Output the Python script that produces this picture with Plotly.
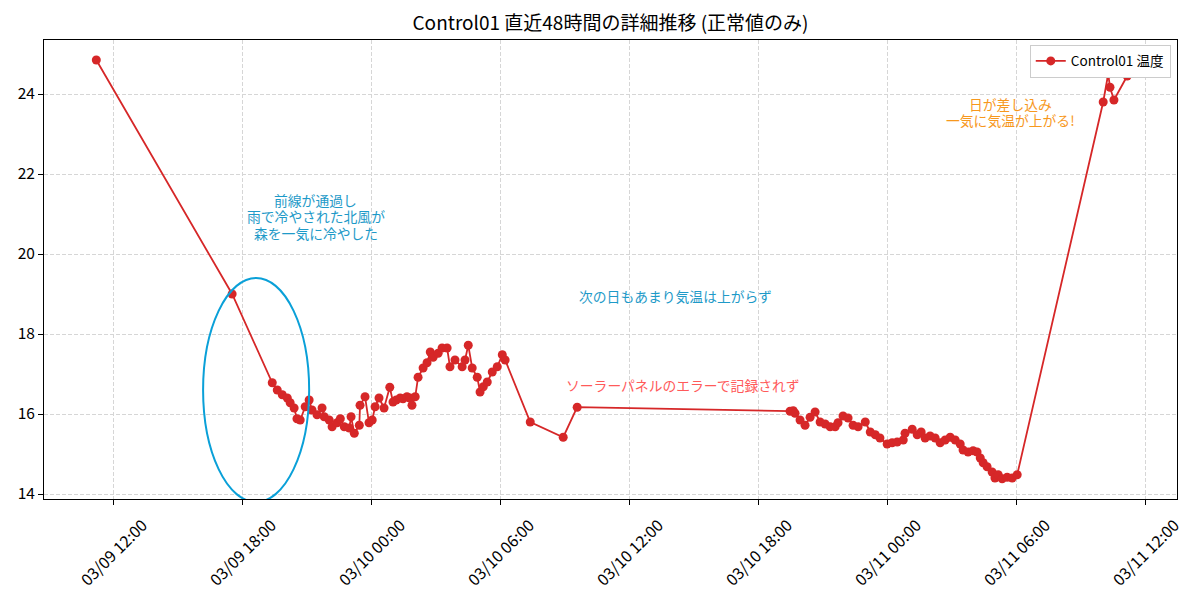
import plotly.graph_objects as go

# 03/09 - 03/11 readings (anomalies removed)
times = [
    "2025-03-09 11:13", "2025-03-09 17:32",
    "2025-03-09 19:24", "2025-03-09 19:38", "2025-03-09 19:52", "2025-03-09 20:06",
    "2025-03-09 20:14", "2025-03-09 20:25", "2025-03-09 20:33", "2025-03-09 20:42",
    "2025-03-09 20:56", "2025-03-09 21:07", "2025-03-09 21:15", "2025-03-09 21:29",
    "2025-03-09 21:43", "2025-03-09 21:49", "2025-03-09 22:03", "2025-03-09 22:11",
    "2025-03-09 22:25", "2025-03-09 22:34", "2025-03-09 22:45", "2025-03-09 22:59",
    "2025-03-09 23:04", "2025-03-09 23:13", "2025-03-09 23:27", "2025-03-09 23:29",
    "2025-03-09 23:43", "2025-03-09 23:54", "2025-03-10 00:03", "2025-03-10 00:11",
    "2025-03-10 00:22", "2025-03-10 00:36", "2025-03-10 00:52", "2025-03-10 01:01",
    "2025-03-10 01:10", "2025-03-10 01:21", "2025-03-10 01:29", "2025-03-10 01:40",
    "2025-03-10 01:48", "2025-03-10 01:54", "2025-03-10 02:03", "2025-03-10 02:11",
    "2025-03-10 02:25", "2025-03-10 02:36", "2025-03-10 02:45", "2025-03-10 02:53",
    "2025-03-10 03:07", "2025-03-10 03:18", "2025-03-10 03:32", "2025-03-10 03:40",
    "2025-03-10 03:54", "2025-03-10 04:14", "2025-03-10 04:22", "2025-03-10 04:31",
    "2025-03-10 04:42", "2025-03-10 04:56", "2025-03-10 05:04", "2025-03-10 05:13",
    "2025-03-10 05:24", "2025-03-10 05:38", "2025-03-10 05:52", "2025-03-10 06:06",
    "2025-03-10 06:14",
    "2025-03-10 07:24", "2025-03-10 08:56", "2025-03-10 09:35",
    "2025-03-10 19:29", "2025-03-10 19:38", "2025-03-10 19:43", "2025-03-10 19:57",
    "2025-03-10 20:11", "2025-03-10 20:25", "2025-03-10 20:39", "2025-03-10 20:53",
    "2025-03-10 21:07", "2025-03-10 21:21", "2025-03-10 21:35", "2025-03-10 21:43",
    "2025-03-10 21:57", "2025-03-10 22:11", "2025-03-10 22:25", "2025-03-10 22:39",
    "2025-03-10 22:59", "2025-03-10 23:13", "2025-03-10 23:27", "2025-03-10 23:40",
    "2025-03-11 00:00", "2025-03-11 00:14", "2025-03-11 00:28", "2025-03-11 00:45",
    "2025-03-11 00:50", "2025-03-11 01:10", "2025-03-11 01:24", "2025-03-11 01:35",
    "2025-03-11 01:46", "2025-03-11 02:00", "2025-03-11 02:14", "2025-03-11 02:28",
    "2025-03-11 02:42", "2025-03-11 02:56", "2025-03-11 03:10", "2025-03-11 03:24",
    "2025-03-11 03:32", "2025-03-11 03:46", "2025-03-11 04:00", "2025-03-11 04:11",
    "2025-03-11 04:20", "2025-03-11 04:28", "2025-03-11 04:39", "2025-03-11 04:53",
    "2025-03-11 05:01", "2025-03-11 05:10", "2025-03-11 05:21", "2025-03-11 05:35",
    "2025-03-11 05:49", "2025-03-11 06:03",
    "2025-03-11 10:03", "2025-03-11 10:17", "2025-03-11 10:22", "2025-03-11 10:33",
    "2025-03-11 11:10",
]
temps = [
    24.85, 19.0,
    16.78, 16.6, 16.48, 16.4,
    16.28, 16.15, 15.88, 15.85,
    16.18, 16.35, 16.1, 15.98,
    16.15, 15.93, 15.85, 15.68,
    15.78, 15.88, 15.68, 15.65,
    15.93, 15.52, 15.72, 16.22,
    16.43, 15.78, 15.85, 16.18,
    16.4, 16.15, 16.67, 16.3,
    16.35, 16.4, 16.38, 16.43,
    16.4, 16.22, 16.43, 16.92,
    17.15, 17.28, 17.55, 17.42,
    17.52, 17.65, 17.65, 17.18,
    17.35, 17.18, 17.35, 17.72,
    17.15, 16.92, 16.55, 16.68,
    16.8, 17.05, 17.18, 17.48,
    17.35,
    15.8, 15.42, 16.17,
    16.07, 16.08, 16.02, 15.85,
    15.72, 15.92, 16.05, 15.8,
    15.75, 15.68, 15.68, 15.78,
    15.95, 15.9, 15.72, 15.68,
    15.8, 15.55, 15.48, 15.4,
    15.25, 15.28, 15.3, 15.35,
    15.52, 15.62, 15.48, 15.55,
    15.4, 15.45, 15.4, 15.28,
    15.35, 15.42, 15.35, 15.25,
    15.1, 15.05, 15.08, 15.05,
    14.9, 14.78, 14.68, 14.55,
    14.4, 14.48, 14.38, 14.42,
    14.4, 14.48,
    23.8, 24.5, 24.17, 23.85,
    24.45,
]

# x tick positions / labels (drawn centred under the ticks like the original)
tick_times = ["2025-03-09 12:00", "2025-03-09 18:00", "2025-03-10 00:00", "2025-03-10 06:00",
              "2025-03-10 12:00", "2025-03-10 18:00", "2025-03-11 00:00", "2025-03-11 06:00",
              "2025-03-11 12:00"]
tick_labels = ["03/09 12:00", "03/09 18:00", "03/10 00:00", "03/10 06:00",
               "03/10 12:00", "03/10 18:00", "03/11 00:00", "03/11 06:00",
               "03/11 12:00"]

FONT = "Noto Sans CJK JP"
RED = "#d62728"
BLUE_TXT = "#1e9ac8"

fig = go.Figure()
fig.add_trace(go.Scatter(
    x=times, y=temps, mode="lines+markers", name="Control01 温度",
    line=dict(color=RED, width=1.8),
    marker=dict(color=RED, size=9),
))

# ellipse around the cold front drop
fig.add_shape(type="circle", xref="x", yref="y",
              x0="2025-03-09 16:11", x1="2025-03-09 21:07", y0=13.8, y1=19.4,
              line=dict(color="#0aa0d8", width=2))

notes = [
    ("2025-03-09 21:25", 20.95, ["前線が通過し", "雨で冷やされた北風が", "森を一気に冷やした"], BLUE_TXT),
    ("2025-03-10 14:10", 18.95, ["次の日もあまり気温は上がらず"], BLUE_TXT),
    ("2025-03-10 14:30", 16.72, ["ソーラーパネルのエラーで記録されず"], "#ff5a5a"),
    ("2025-03-11 05:45", 23.55, ["日が差し込み", "一気に気温が上がる!"], "#f7981d"),
]
LINE_H = 16.5
for nx, ny, lines, col in notes:
    n = len(lines)
    for i, txt in enumerate(lines):
        fig.add_annotation(x=nx, y=ny, text=txt, showarrow=False, borderpad=0,
                           yshift=((n - 1) / 2 - i) * LINE_H,
                           font=dict(family=FONT, size=13.8, color=col))

for tt, tl in zip(tick_times, tick_labels):
    fig.add_annotation(x=tt, y=0, xref="x", yref="paper", text=tl, showarrow=False,
                       textangle=-45, xanchor="center", yanchor="top", yshift=-12,
                       font=dict(family=FONT, size=16, color="black"))

axis_common = dict(
    showline=True, linecolor="black", linewidth=1, mirror=True,
    ticks="outside", ticklen=5, tickcolor="black", automargin=False,
    showgrid=True, gridcolor="#d6d6d6", griddash="4px,2px", gridwidth=1,
    zeroline=False, tickfont=dict(family=FONT, size=15.5, color="black"),
)

# page body has an 8px margin, so the figure is sized to fit inside the window
fig.update_layout(
    width=1184, height=584,
    paper_bgcolor="white", plot_bgcolor="white",
    margin=dict(l=36, r=15, t=32, b=93),
    title=dict(text="Control01 直近48時間の詳細推移 (正常値のみ)", x=0.5, xref="paper",
               xanchor="center", y=0.974, yanchor="middle",
               font=dict(family=FONT, size=19, color="black")),
    font=dict(family=FONT),
    xaxis=dict(axis_common, type="date", range=["2025-03-09 08:47", "2025-03-11 13:29"],
               tickvals=tick_times, showticklabels=False),
    yaxis=dict(axis_common, range=[13.875, 25.35], dtick=2),
    legend=dict(x=0.9945, y=0.99, xanchor="right", yanchor="top",
                bgcolor="white", bordercolor="#cccccc", borderwidth=1,
                font=dict(family=FONT, size=13.6, color="black")),
    showlegend=True,
)

fig.write_html("out.html")
